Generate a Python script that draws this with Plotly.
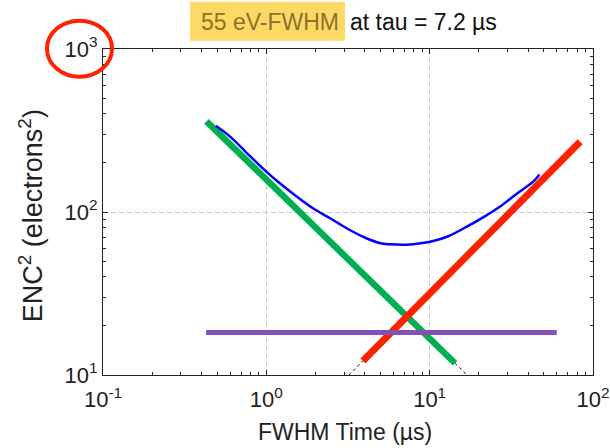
import plotly.graph_objects as go

# Noise components of ENC^2 versus shaping time (FWHM), log-log
series_x = [0.43, 14.3]          # series (voltage) noise, falls as 1/t
series_y = [360, 11.8]
parallel_x = [3.9, 83.4]         # parallel (current) noise, grows with t
parallel_y = [12.2, 270]
flicker_x = [0.428, 60]          # 1/f noise, independent of t
flicker_y = [18.2, 18.2]
total_x = [0.49, 0.60, 0.76, 1.0, 1.21, 1.54, 1.94, 2.46, 3.1, 4.1, 5.0, 5.7,
           7.2, 7.9, 10.5, 13, 16.9, 21, 27, 34, 43.2, 47]
total_y = [338, 290, 230, 177, 150, 124, 105, 91.5, 79.5, 69, 64.3, 63.4,
           63, 63.4, 66.4, 71, 81.3, 92, 108, 129, 154, 170]
# thin dashed continuations of the two sloped components down to the axis
parallel_ext_x = [3.2, 3.9]
parallel_ext_y = [10, 12.2]
series_ext_x = [14.3, 16.9]
series_ext_y = [11.8, 10]

x_ticks = [0.1, 1, 10, 100]
x_ticktext = ["10<sup>-1</sup>", "10<sup>0</sup>", "10<sup>1</sup>", "10<sup>2</sup>"]
y_ticks = [10, 100, 1000]
y_ticktext = ["10<sup>1</sup>", "10<sup>2</sup>", "10<sup>3</sup>"]
x_minor = [m * d for d in (0.1, 1, 10) for m in range(2, 10)]
y_minor = [m * d for d in (10, 100) for m in range(2, 10)]

FONT = "Arial, Liberation Sans, sans-serif"

fig = go.Figure()
for xs, ys in ((parallel_ext_x, parallel_ext_y), (series_ext_x, series_ext_y)):
    fig.add_trace(go.Scatter(x=xs, y=ys, mode="lines",
                             line=dict(color="black", width=1, dash="3px,3px")))
fig.add_trace(go.Scatter(x=series_x, y=series_y, mode="lines",
                         line=dict(color="#00B050", width=6.5)))
fig.add_trace(go.Scatter(x=parallel_x, y=parallel_y, mode="lines",
                         line=dict(color="#FF2200", width=7)))
fig.add_trace(go.Scatter(x=flicker_x, y=flicker_y, mode="lines",
                         line=dict(color="#8650B4", width=5)))
fig.add_trace(go.Scatter(x=total_x, y=total_y, mode="lines", line_shape="spline",
                         line=dict(color="#0000FF", width=2.5)))

axis_common = dict(
    type="log", tickmode="array", ticks="inside", ticklen=5, tickwidth=1,
    tickcolor="#222", showline=True, linecolor="#222", linewidth=1,
    mirror="allticks", showgrid=True, gridcolor="#c8c8c8", gridwidth=1,
    griddash="5px,3px", zeroline=False,
    tickfont=dict(family=FONT, size=22, color="#222"),
)
fig.update_xaxes(range=[-1, 2], tickvals=x_ticks, ticktext=x_ticktext,
                 ticklabelstandoff=5,
                 minor=dict(tickmode="array", tickvals=x_minor, ticks="inside",
                            ticklen=3, tickcolor="#222", showgrid=False),
                 **axis_common)
fig.update_yaxes(range=[1, 3], tickvals=y_ticks, ticktext=y_ticktext,
                 minor=dict(tickmode="array", tickvals=y_minor, ticks="inside",
                            ticklen=3, tickcolor="#222", showgrid=False),
                 **axis_common)

fig.update_layout(
    width=610, height=448,
    margin=dict(l=103, r=17, t=49, b=73, autoexpand=False),
    paper_bgcolor="white", plot_bgcolor="white",
    showlegend=False,
    font=dict(family=FONT, color="#222"),
    shapes=[
        # highlight behind the resolution figure
        dict(type="rect", xref="paper", yref="paper", x0=0.1776, x1=0.4939,
             y0=1.0255, y1=1.1452, fillcolor="#FFD966", line=dict(width=0),
             layer="below"),
        # circle around the top y tick label
        dict(type="circle", xref="paper", yref="paper", x0=-0.1143, x1=0.0184,
             y0=0.915, y1=1.087, line=dict(color="#FF2200", width=4)),
    ],
    annotations=[
        dict(text="55 eV-FWHM", xref="paper", yref="paper", x=0.4857, y=1.0838,
             xanchor="right", yanchor="middle", showarrow=False,
             font=dict(family=FONT, size=23, color="#8A7328")),
        dict(text="at tau = 7.2 µs", xref="paper", yref="paper", x=0.5, y=1.0838,
             xanchor="left", yanchor="middle", showarrow=False,
             font=dict(family=FONT, size=23, color="#111")),
        dict(text="FWHM Time (µs)", xref="paper", yref="paper", x=0.4929, y=-0.175,
             xanchor="center", yanchor="middle", showarrow=False,
             font=dict(family=FONT, size=23, color="#222")),
        dict(text="ENC<sup>2</sup> (electrons<sup>2</sup>)", xref="paper", yref="paper",
             x=-0.147, y=0.49, xanchor="center", yanchor="middle", textangle=-90,
             showarrow=False, font=dict(family=FONT, size=27, color="#222")),
    ],
)

fig.write_html("out.html")
